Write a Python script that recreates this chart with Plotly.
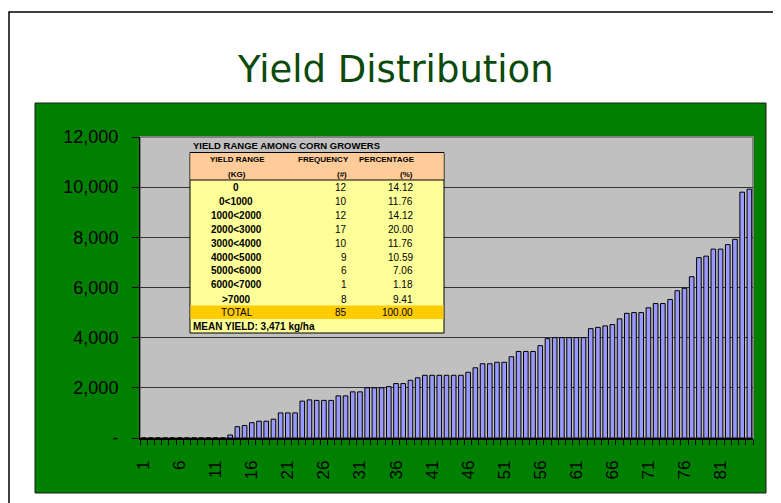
import plotly.graph_objects as go

# sorted yields of the 85 growers (kg/ha)
grower = list(range(1, 86))
yields = [0, 0, 0, 0, 0, 0, 0, 0, 0, 0, 0, 0,
          120, 450, 500, 610, 670, 670, 750, 1000, 1000, 1000,
          1470, 1520, 1500, 1500, 1500, 1680, 1680, 1840, 1840, 2000, 2000, 2000,
          2050, 2170, 2170, 2300, 2400, 2500, 2500, 2500, 2500, 2500, 2500,
          2620, 2800, 2960, 2960, 3020, 3020,
          3240, 3450, 3450, 3450, 3680, 3960, 4000, 4000, 4000, 4000,
          4000, 4360, 4410, 4470, 4520, 4750, 4970, 5000, 5000,
          5190, 5360, 5360, 5520, 5870, 5970,
          6430,
          7190, 7250, 7530, 7530, 7710, 7920, 9800, 9920]

y_ticks = [0, 2000, 4000, 6000, 8000, 10000, 12000]
y_labels = ['-', '2,000', '4,000', '6,000', '8,000', '10,000', '12,000']
x_ticks = [1, 6, 11, 16, 21, 26, 31, 36, 41, 46, 51, 56, 61, 66, 71, 76, 81]

# inset table
ranges = ['0', '0<1000', '1000<2000', '2000<3000', '3000<4000',
          '4000<5000', '5000<6000', '6000<7000', '>7000']
freq = [12, 10, 12, 17, 10, 9, 6, 1, 8]
pct = ['14.12', '11.76', '14.12', '20.00', '11.76', '10.59', '7.06', '1.18', '9.41']
row_y = [187, 201, 215.5, 229, 243, 257, 270.5, 284, 299]

GREEN = '#008000'
FONT = 'Liberation Sans, Arial, sans-serif'

# page has an 8px body margin; positions below are page pixels
OFF = 8
W, H = 781 - OFF, 503 - OFF
L, R, T, B = 140, 753, 137, 438


def px(x):
    return (x - L) / (R - L)


def py(y):
    return (B - y) / (B - T)


fig = go.Figure()

fig.add_trace(go.Bar(
    x=grower,
    y=yields,
    marker=dict(color='#9999FF', line=dict(color='black', width=1)),
    hoverinfo='skip'
))

shapes = [
    # slide frame
    dict(type='rect', xref='paper', yref='paper', x0=px(9), x1=px(800), y0=py(12), y1=py(520),
         line=dict(color='black', width=1.5), layer='below'),
    # green chart area
    dict(type='rect', xref='paper', yref='paper', x0=px(35), x1=px(766), y0=py(103), y1=py(493),
         fillcolor=GREEN, line=dict(color='#1a1a1a', width=1), layer='below'),
    # gray plot area
    dict(type='rect', xref='paper', yref='paper', x0=0, x1=1, y0=0, y1=1,
         fillcolor='#C0C0C0', line=dict(color='#808080', width=2), layer='below'),
    # table body
    dict(type='rect', xref='paper', yref='paper', x0=px(190), x1=px(444), y0=py(152.5), y1=py(333),
         fillcolor='#FFFF99', line=dict(color='black', width=1), layer='above'),
    dict(type='rect', xref='paper', yref='paper', x0=px(190.5), x1=px(443.5), y0=py(153), y1=py(180),
         fillcolor='#FFCC99', line=dict(width=0), layer='above'),
    dict(type='line', xref='paper', yref='paper', x0=px(190), x1=px(444), y0=py(180), y1=py(180),
         line=dict(color='black', width=1), layer='above'),
    dict(type='rect', xref='paper', yref='paper', x0=px(190.5), x1=px(443.5), y0=py(305.5), y1=py(319),
         fillcolor='#FFCC00', line=dict(width=0), layer='above'),
]

ann = []


def text(x, y, s, size=10, bold=False, xanchor='center', color='black'):
    if bold:
        s = '<b>' + s + '</b>'
    ann.append(dict(x=px(x), y=py(y), xref='paper', yref='paper', text=s, showarrow=False,
                    xanchor=xanchor, yanchor='middle', font=dict(family=FONT, size=size, color=color)))


text(395, 69, 'Yield Distribution', size=37, color='#0B4A0B')
ann[-1]['font']['family'] = 'DejaVu Sans, sans-serif'

text(191, 145, 'YIELD RANGE AMONG CORN GROWERS', size=9.5, bold=True, xanchor='left')
text(237, 160, 'YIELD RANGE', size=8, bold=True)
text(323, 160, 'FREQUENCY', size=8, bold=True)
text(387, 160, 'PERCENTAGE', size=8, bold=True)
text(237, 174, '(KG)', size=8, bold=True)
text(349, 174, '(#)', size=8, bold=True, xanchor='right')
text(415, 174, '(%)', size=8, bold=True, xanchor='right')
for r, f, p, y in zip(ranges, freq, pct, row_y):
    text(236, y, r, size=10, bold=True)
    text(349, y, str(f), size=10, xanchor='right')
    text(415, y, p, size=10, xanchor='right')
text(237, 312, 'TOTAL', size=10)
text(349, 312, str(sum(freq)), size=10, xanchor='right')
text(415, 312, '100.00', size=10, xanchor='right')
text(191, 326, 'MEAN YIELD: 3,471 kg/ha', size=10, bold=True, xanchor='left')

fig.update_layout(
    width=W,
    height=H,
    margin=dict(l=L - OFF, r=W - (R - OFF), t=T - OFF, b=H - (B - OFF)),
    paper_bgcolor='white',
    plot_bgcolor='rgba(0,0,0,0)',
    showlegend=False,
    bargap=0.36,
    shapes=shapes,
    annotations=ann,
    font=dict(family=FONT, color='black'),
)

fig.update_xaxes(
    range=[0.5, 85.5],
    tickmode='array',
    tickvals=x_ticks,
    ticktext=[str(v) for v in x_ticks],
    tickangle=-90,
    tickfont=dict(size=17),
    ticks='',
    ticklabelstandoff=14,
    minor=dict(tickmode='array', tickvals=[v + 0.5 for v in range(0, 86)],
               ticks='outside', ticklen=5, tickcolor='black', tickwidth=1),
    showgrid=False,
    showline=True,
    linecolor='black',
    linewidth=1.5,
    zeroline=False,
)

fig.update_yaxes(
    range=[0, 12000],
    tickmode='array',
    tickvals=y_ticks,
    ticktext=y_labels,
    tickfont=dict(size=18),
    ticks='outside',
    ticklen=7,
    tickcolor='black',
    ticklabelstandoff=10,
    showgrid=True,
    gridcolor='#333333',
    gridwidth=1,
    showline=True,
    linecolor='black',
    linewidth=1,
    zeroline=False,
)

fig.write_html("out.html")
